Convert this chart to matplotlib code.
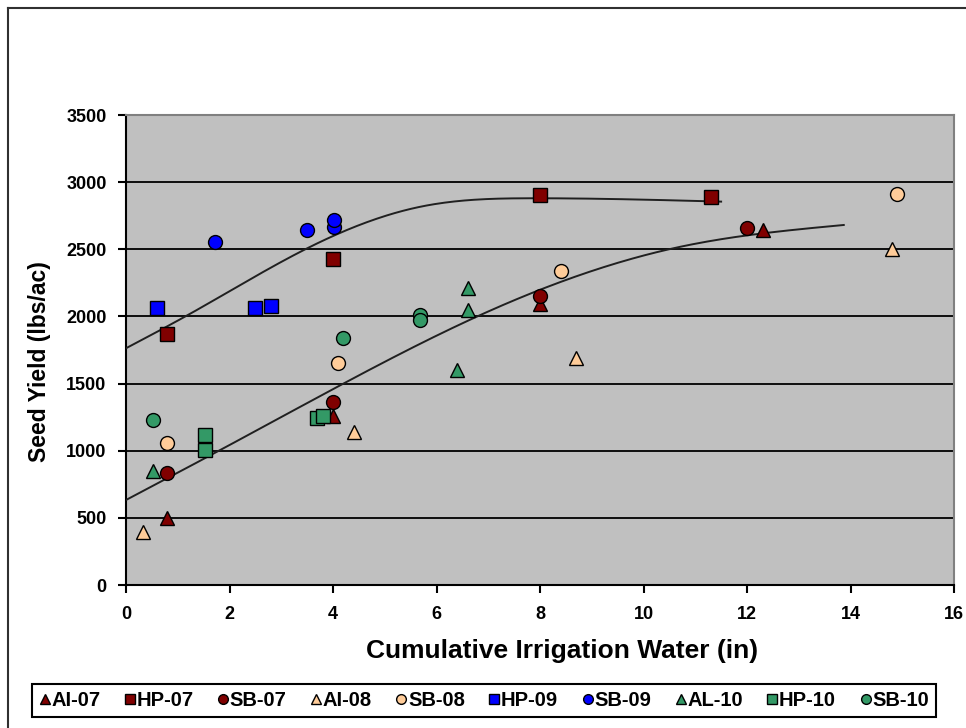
import numpy as np
import matplotlib
matplotlib.use("Agg")
import matplotlib.pyplot as plt
from matplotlib.lines import Line2D

plt.rcParams['font.family'] = ['Liberation Sans', 'DejaVu Sans']

# ---- data ----
ai07_x = [0.8, 4.0, 8.0, 12.3]
ai07_y = [500, 1255, 2095, 2645]
hp07_x = [0.8, 4.0, 8.0, 11.3]
hp07_y = [1867, 2428, 2905, 2890]
sb07_x = [0.8, 4.0, 8.0, 12.0]
sb07_y = [832, 1360, 2153, 2657]
ai08_x = [0.33, 4.4, 8.7, 14.8]
ai08_y = [392, 1136, 1692, 2505]
sb08_x = [0.8, 4.1, 8.4, 14.9]
sb08_y = [1058, 1650, 2336, 2912]
hp09_x = [0.6, 2.5, 2.8]
hp09_y = [2063, 2063, 2080]
sb09_x = [1.72, 3.5, 4.02, 4.02]
sb09_y = [2555, 2643, 2667, 2716]
al10_x = [0.52, 6.4, 6.6, 6.6]
al10_y = [852, 1601, 2208, 2048]
hp10_x = [1.53, 1.53, 3.7, 3.8]
hp10_y = [1115, 1003, 1247, 1260]
sb10_x = [0.52, 4.2, 5.68, 5.68]
sb10_y = [1228, 1838, 2010, 1974]

# trend lines: points
upper_x = [0.0, 1.17, 3.5, 5.69, 7.9, 11.5]
upper_y = [1763, 2005, 2507, 2817, 2880, 2855]
lower_x = [0.0, 1.82, 4.27, 6.85, 10.69, 13.87]
lower_y = [633, 1005, 1514, 2011, 2517, 2681]


def natural_spline(x, y, xs):
    x = np.asarray(x, float); y = np.asarray(y, float)
    n = len(x); h = np.diff(x)
    A = np.zeros((n, n)); b = np.zeros(n)
    A[0, 0] = 1; A[-1, -1] = 1
    for i in range(1, n - 1):
        A[i, i-1] = h[i-1]; A[i, i] = 2*(h[i-1] + h[i]); A[i, i+1] = h[i]
        b[i] = 6*((y[i+1]-y[i])/h[i] - (y[i]-y[i-1])/h[i-1])
    M = np.linalg.solve(A, b)
    idx = np.clip(np.searchsorted(x, xs) - 1, 0, n - 2)
    xi, xj, hi = x[idx], x[idx+1], h[idx]
    return (M[idx]*(xj-xs)**3/(6*hi) + M[idx+1]*(xs-xi)**3/(6*hi)
            + (y[idx]/hi - M[idx]*hi/6)*(xj-xs) + (y[idx+1]/hi - M[idx+1]*hi/6)*(xs-xi))


series = [
    ("AI-07", ai07_x, ai07_y, '^', '#800000'),
    ("HP-07", hp07_x, hp07_y, 's', '#800000'),
    ("SB-07", sb07_x, sb07_y, 'o', '#800000'),
    ("AI-08", ai08_x, ai08_y, '^', '#FFCC99'),
    ("SB-08", sb08_x, sb08_y, 'o', '#FFCC99'),
    ("HP-09", hp09_x, hp09_y, 's', '#0000FF'),
    ("SB-09", sb09_x, sb09_y, 'o', '#0000FF'),
    ("AL-10", al10_x, al10_y, '^', '#339966'),
    ("HP-10", hp10_x, hp10_y, 's', '#339966'),
    ("SB-10", sb10_x, sb10_y, 'o', '#339966'),
]
msizes = {'^': 10.5, 's': 10.5, 'o': 10.0}

fig = plt.figure(figsize=(9.66, 7.28), dpi=100)
ax = fig.add_axes([126/966, 1-585/728, (954-126)/966, (585-115)/728])
ax.set_facecolor('#C0C0C0')

# trend lines
for cx, cy in [(upper_x, upper_y), (lower_x, lower_y)]:
    xs = np.linspace(min(cx), max(cx), 300)
    ax.plot(xs, natural_spline(cx, cy, xs), color='#202020', lw=1.4, zorder=3)

for name, xs, ys, m, c in series:
    ax.plot(xs, ys, linestyle='none', marker=m, markersize=msizes[m],
            markerfacecolor=c, markeredgecolor='black', markeredgewidth=1.0,
            zorder=4, label=name)

ax.set_xlim(0, 16)
ax.set_ylim(0, 3500)
ax.set_xticks(np.arange(0, 17, 2))
ax.set_yticks(np.arange(0, 3501, 500))
ax.yaxis.grid(True, color='black', lw=1.3)
ax.set_axisbelow(True)

for s in ['left', 'bottom']:
    ax.spines[s].set_color('black')
    ax.spines[s].set_linewidth(1.5)
for s in ['top', 'right']:
    ax.spines[s].set_color('#808080')
    ax.spines[s].set_linewidth(1.5)

ax.tick_params(axis='both', direction='out', length=6, width=1.5, colors='black',
               labelsize=13)
ax.tick_params(axis='y', pad=8)
ax.tick_params(axis='x', pad=9)
for lab in ax.get_xticklabels() + ax.get_yticklabels():
    lab.set_fontweight('bold')

fig.text(562/966, 1-651/728, 'Cumulative Irrigation Water (in)', ha='center', va='center',
         fontsize=19, fontweight='bold')
fig.text(40/966, 1-362/728, 'Seed Yield (lbs/ac)', ha='center', va='center',
         rotation=90, fontsize=16.5, fontweight='bold')

# outer chart border (left and top visible)
fig.add_artist(Line2D([8/966, 8/966], [0, 1-8/728], transform=fig.transFigure,
                      color='#303030', lw=1.5))
fig.add_artist(Line2D([8/966, 1], [1-8/728, 1-8/728], transform=fig.transFigure,
                      color='#303030', lw=1.5))

handles, labels = ax.get_legend_handles_labels()
leg = fig.legend(handles, labels, loc='lower left', ncol=10, mode='expand',
                 bbox_to_anchor=(22/966, 1-727/728, (946-22)/966, (727-693)/728),
                 frameon=True, fancybox=False, edgecolor='black', framealpha=1,
                 handlelength=0.55, handletextpad=0.05, columnspacing=0.4,
                 borderpad=0.35, markerscale=0.7,
                 prop={'size': 14.5, 'weight': 'bold'})
leg.get_frame().set_linewidth(1.5)

fig.savefig('out.png', dpi=100)
